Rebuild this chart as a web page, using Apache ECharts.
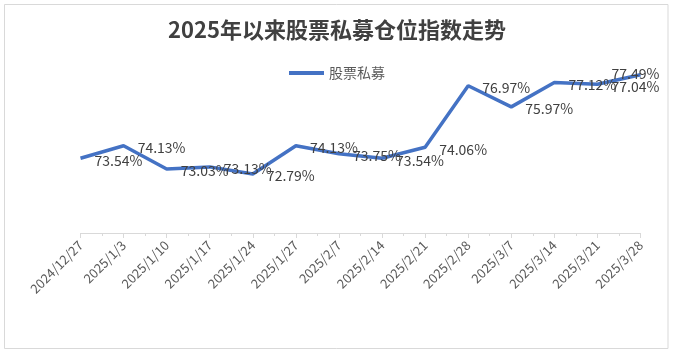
<!DOCTYPE html>
<html>
<head>
<meta charset="utf-8">
<script src="https://cdn.jsdelivr.net/npm/echarts@6/dist/echarts.min.js"></script>
<style>
  html, body { margin: 0; padding: 0; background: #fff; }
  #main { width: 674px; height: 353px; }
</style>
</head>
<body>
<div id="main"></div>
<script>
var chartDom = document.getElementById('main');
var myChart = echarts.init(chartDom);

const title = '2025年以来股票私募仓位指数走势';
const seriesName = '股票私募';
const dates = [
    '2024/12/27', '2025/1/3', '2025/1/10', '2025/1/17', '2025/1/24', '2025/1/27', '2025/2/7',
    '2025/2/14', '2025/2/21', '2025/2/28', '2025/3/7', '2025/3/14', '2025/3/21', '2025/3/28'
];
const values = [73.54, 74.13, 73.03, 73.13, 72.79, 74.13, 73.75, 73.54, 74.06, 76.97, 75.97, 77.12, 77.04, 77.49];

const font = "'Noto Sans CJK SC', 'Noto Sans', sans-serif";

// 折线数据，最后一个标签放在点上（原图被挤回图内）
const lineData = values.map((v, i) => {
    const item = { value: [i, v] };
    if (i === values.length - 1) {
        item.label = { position: 'inside', offset: [-5, -1] };
    }
    return item;
});

var option = {
    animation: false,
    backgroundColor: '#fff',
    title: {
        text: title,
        left: 'center',
        top: 14,
        textStyle: {
            fontFamily: font,
            fontSize: 22,
            fontWeight: 'bold',
            color: '#404040'
        }
    },
    legend: {
        top: 61,
        left: 'center',
        icon: 'rect',
        itemWidth: 35,
        itemHeight: 4,
        data: [seriesName],
        textStyle: { fontFamily: font, fontSize: 14, color: '#595959' }
    },
    grid: {
        left: 80.5,
        right: 33.5,
        top: 64,
        bottom: 120
    },
    xAxis: {
        type: 'value',
        min: 0,
        max: dates.length - 1,
        interval: 1,
        splitLine: { show: false },
        axisLine: { show: true, lineStyle: { color: '#d9d9d9', width: 1 } },
        axisTick: { show: true, length: 5, lineStyle: { color: '#d9d9d9' } },
        minorTick: { show: true, splitNumber: 2, length: 3, lineStyle: { color: '#d9d9d9' } },
        axisLabel: {
            rotate: 45,
            margin: 10,
            fontFamily: font,
            fontSize: 13,
            color: '#595959',
            formatter: (v) => dates[v] || ''
        }
    },
    yAxis: {
        type: 'value',
        min: 70,
        max: 78,
        show: false
    },
    series: [
        {
            name: seriesName,
            type: 'line',
            data: lineData,
            showSymbol: true,
            symbol: 'circle',
            symbolSize: 0.1,
            lineStyle: { color: '#4472C4', width: 3.5 },
            itemStyle: { color: '#4472C4' },
            label: {
                show: true,
                position: 'right',
                distance: 14,
                offset: [0, 2],
                fontFamily: font,
                fontSize: 14,
                color: '#404040',
                formatter: (p) => p.value[1].toFixed(2) + '%'
            }
        }
    ],
    graphic: [
        {
            type: 'rect',
            shape: { x: 4.5, y: 4.5, width: 663.5, height: 344 },
            style: { fill: 'none', stroke: '#d9d9d9', lineWidth: 1 },
            silent: true
        }
    ]
};

myChart.setOption(option);
</script>
</body>
</html>
